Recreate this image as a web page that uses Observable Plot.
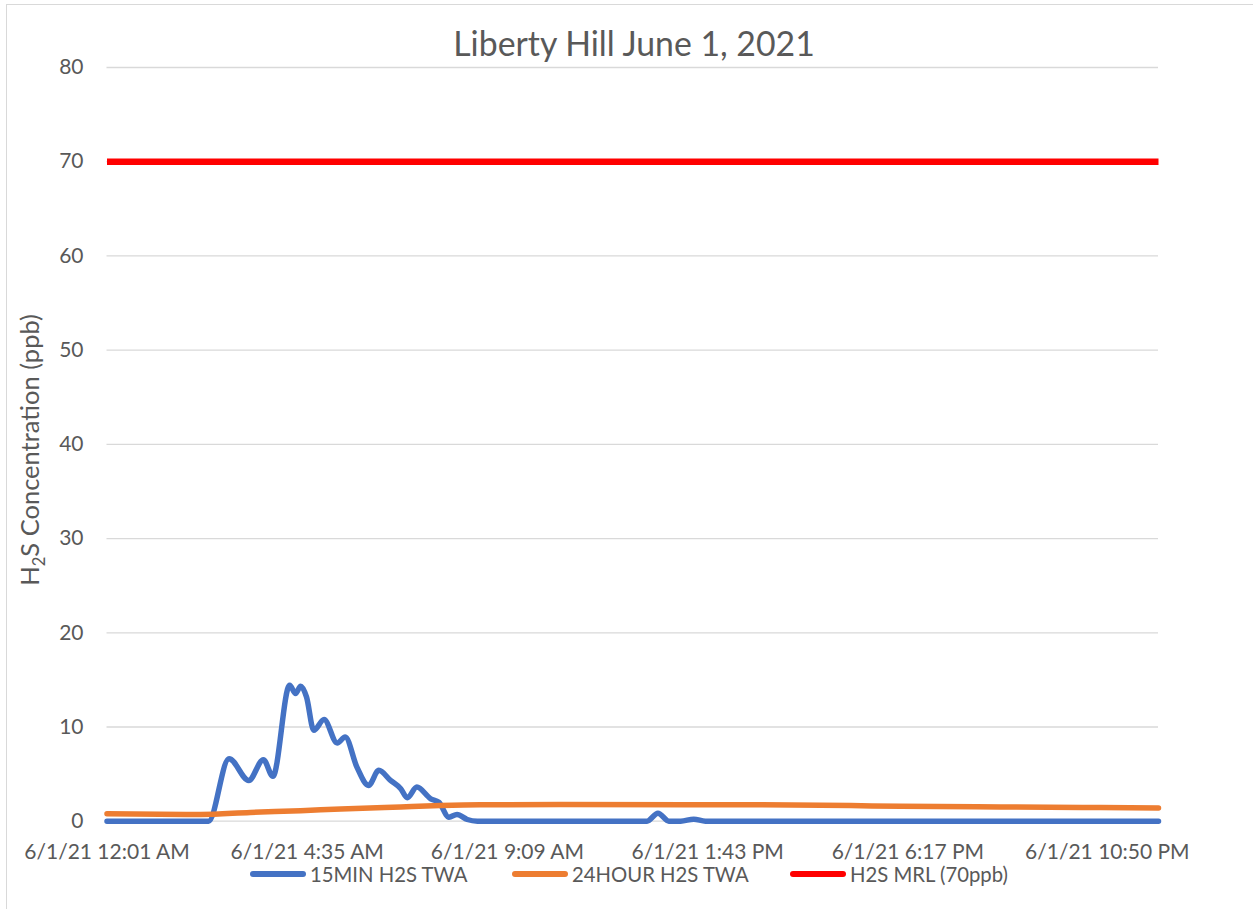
<!DOCTYPE html>
<html>
<head>
<meta charset="utf-8">
<script src="https://cdn.jsdelivr.net/npm/d3@7"></script>
<script src="https://cdn.jsdelivr.net/npm/@observablehq/plot@0.6"></script>
<style>
  html, body { margin: 0; padding: 0; background: #fff; overflow: hidden; }
  #wrap { position: relative; width: 1253px; height: 909px; font-family: Lato, "Open Sans", sans-serif; color: #595959; }
  #frame { position: absolute; left: 6px; top: 4px; width: 1300px; height: 1000px; border: 1.5px solid #d9d9d9; box-sizing: border-box; }
  #chart { position: absolute; left: 0; top: 0; }
  #title { position: absolute; left: 0; width: 1268px; top: 27px; text-align: center; font-size: 33.8px; line-height: 33px; white-space: nowrap; }
  #ytitle { position: absolute; left: 30px; top: 450px; transform: translate(-50%, -50%) rotate(-90deg); font-size: 25.5px; white-space: nowrap; line-height: 1; }
  #ytitle sub { font-size: 0.65em; vertical-align: -0.35em; line-height: 0; }
  .leg { position: absolute; top: 861px; height: 26px; display: flex; align-items: center; font-size: 20.3px; line-height: 1; white-space: nowrap; }
  .sw { width: 56px; height: 5.5px; border-radius: 3px; margin-right: 4px; }
</style>
</head>
<body>
<div id="wrap">
  <div id="frame"></div>
  <div id="chart"></div>
  <div id="title"></div>
  <div id="ytitle">H<sub>2</sub>S Concentration (ppb)</div>
  <div id="legend"></div>
</div>
<script>
// ---- Data ----
const chartTitle = "Liberty Hill June 1, 2021";
const seriesNames = ["15MIN H2S TWA", "24HOUR H2S TWA", "H2S MRL (70ppb)"];
const seriesColors = ["#4472C4", "#ED7D31", "#FF0000"];

const xTickLabels = ["6/1/21 12:01 AM", "6/1/21 4:35 AM", "6/1/21 9:09 AM", "6/1/21 1:43 PM", "6/1/21 6:17 PM", "6/1/21 10:50 PM"];
const yTicks = [0, 10, 20, 30, 40, 50, 60, 70, 80];

const blueTimes = ["0:01","2:20","2:48","3:15","3:35","3:48","4:11","4:19","4:26","4:34","4:44","4:58","5:16","5:27","5:43","5:59","6:13","6:29","6:43","6:52","7:05","7:24","7:35","7:49","8:00","8:14","8:28","12:20","12:35","12:50","13:06","13:24","13:40","24:00"];
const blueValues = [0,0,6.64,4.33,6.53,4.76,14.44,13.55,14.33,13.2,9.65,10.79,8.3,8.94,5.74,3.8,5.4,4.33,3.45,2.49,3.62,2.38,2.02,0.43,0.71,0.18,0,0,0.85,0,0,0.22,0,0];

const orangeTimes = ["0:01","2:09","3:17","4:26","5:21","6:43","7:37","8:32","10:22","14:42","16:59","18:07","20:24","22:41","24:00"];
const orangeValues = [0.78,0.71,0.93,1.12,1.3,1.52,1.66,1.74,1.76,1.75,1.66,1.58,1.52,1.45,1.40];

const redTimes = ["0:01","24:00"];
const redValues = [70, 70];

// ---- Helpers ----
const toMin = s => { const [h, m] = s.split(":").map(Number); return h * 60 + m; };
const labelToMin = lab => {
  const parts = lab.split(" ");
  let [h, m] = parts[1].split(":").map(Number);
  if (parts[2] === "AM" && h === 12) h = 0;
  if (parts[2] === "PM" && h !== 12) h += 12;
  return h * 60 + m;
};
const tickMins = xTickLabels.map(labelToMin);
const labelByMin = new Map(tickMins.map((m, i) => [m, xTickLabels[i]]));

const mk = (times, vals) => times.map((t, i) => ({t: toMin(t), v: vals[i]}));
const blue = mk(blueTimes, blueValues);
const orange = mk(orangeTimes, orangeValues);
const red = mk(redTimes, redValues);

const lineOpts = (c) => ({x: "t", y: "v", stroke: c, strokeWidth: 5.5, strokeLinecap: "round", strokeLinejoin: "round"});

const chart = Plot.plot({
  width: 1253,
  height: 880,
  marginTop: 67,
  marginBottom: 59.3,
  marginLeft: 106.5,
  marginRight: 95,
  x: {type: "linear", domain: [1, 1440], axis: null},
  y: {domain: [0, 80], axis: null},
  style: {fontFamily: "Lato, 'Open Sans', sans-serif", fontSize: "21px", color: "#595959", background: "transparent", overflow: "visible"},
  marks: [
    Plot.gridY(yTicks, {stroke: "#d9d9d9", strokeOpacity: 1, strokeWidth: 1.3}),
    Plot.axisY(yTicks, {tickSize: 0, tickPadding: 23.5, label: null, tickFormat: d => String(d), fontSize: 21}),
    Plot.axisX(tickMins, {tickSize: 0, tickPadding: 22.5, label: null, tickFormat: d => labelByMin.get(d), fontSize: 21}),
    Plot.line(blue, {...lineOpts(seriesColors[0]), curve: "monotone-x"}),
    Plot.line(orange, {...lineOpts(seriesColors[1]), curve: "monotone-x"}),
    Plot.line(red, {...lineOpts(seriesColors[2]), strokeWidth: 6.5, strokeLinecap: "butt"})
  ]
});
document.getElementById("chart").appendChild(chart);
document.getElementById("title").textContent = chartTitle;

// ---- Legend ----
const legLefts = [250, 512, 790];
const legend = document.getElementById("legend");
seriesNames.forEach((name, i) => {
  const item = document.createElement("div");
  item.className = "leg";
  item.style.left = legLefts[i] + "px";
  const sw = document.createElement("div");
  sw.className = "sw";
  sw.style.background = seriesColors[i];
  const tx = document.createElement("span");
  tx.textContent = name;
  item.appendChild(sw);
  item.appendChild(tx);
  legend.appendChild(item);
});
</script>
</body>
</html>
